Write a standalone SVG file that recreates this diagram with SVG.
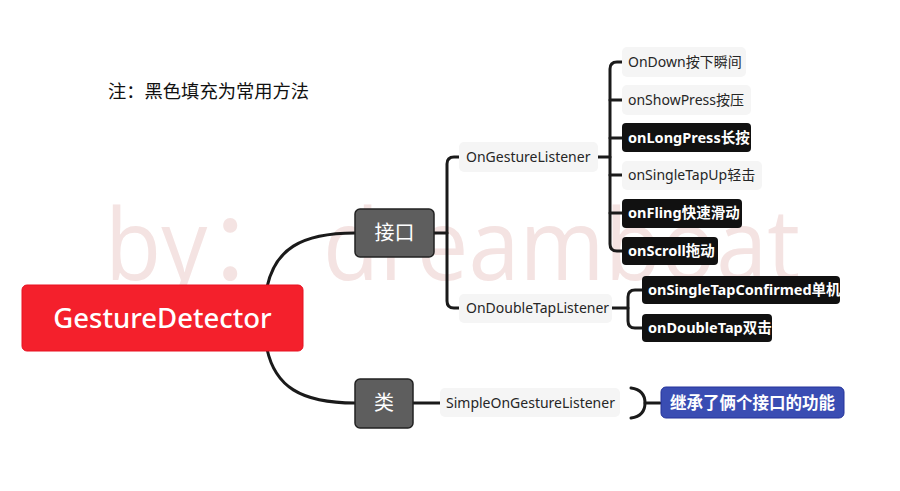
<svg xmlns="http://www.w3.org/2000/svg" width="900" height="491" viewBox="0 0 900 491">
<style>
text{font-family:"Noto Sans","Noto Sans CJK SC",sans-serif;}
.conn{fill:none;stroke:#1a1a1a;stroke-width:3;stroke-linecap:round;}
.light rect{fill:#f5f5f5;}
.light text{fill:#262626;font-size:14px;}
.dark rect{fill:#111;}
.dark text{fill:#fff;font-size:14.5px;font-weight:bold;}
.mid rect{fill:#5e5e5e;stroke:#222;stroke-width:1.5;}
.mid text{fill:#fff;font-size:20px;}
</style>
<rect width="900" height="491" fill="#fff"/>
<text x="105" y="280" font-size="98" fill="#f4e3e2" textLength="695" lengthAdjust="spacingAndGlyphs" style="font-family:'Open Sans','Noto Sans CJK SC',sans-serif">by： dreamboat</text>
<text x="108" y="98" font-size="18.3" fill="#111">注：黑色填充为常用方法</text>
<g id="connectors">
<path class="conn" d="M267 287 C 275 250, 300 233, 355 233"/>
<path class="conn" d="M267 349 C 275 386, 300 403, 355 403"/>
<path class="conn" d="M434 233 H447"/>
<path class="conn" d="M461 157 H454 Q447 157 447 164 V301 Q447 308 454 308 H461"/>
<path class="conn" d="M598 157 H610"/>
<path class="conn" d="M622 62 H617 Q610 62 610 69 V244 Q610 251 617 251 H622"/>
<path class="conn" d="M610 100 H622 M610 138 H622 M610 175 H622 M610 213 H622"/>
<path class="conn" d="M612 308 H628"/>
<path class="conn" d="M642 290 H635 Q628 290 628 297 V321 Q628 328 635 328 H642"/>
<path class="conn" d="M413 403 H441"/>
<path class="conn" d="M631 388 Q645 390 645 403 Q645 416 631 418" stroke-width="2"/>
<path class="conn" d="M645 403 H660" stroke-width="2"/>
</g>
<g id="root"><rect x="22" y="285" width="281" height="66" rx="5" fill="#f4202c" stroke="#e81020"/><text x="162.5" y="328" font-size="27.5" fill="#fff" text-anchor="middle" font-weight="500">GestureDetector</text></g>
<g id="interface" class="mid"><rect x="355" y="209" width="79" height="48" rx="5"/><text x="394.5" y="240" text-anchor="middle">接口</text></g>
<g id="class" class="mid"><rect x="355" y="379" width="58" height="49" rx="5"/><text x="384" y="410" text-anchor="middle">类</text></g>
<g id="onGestureListener" class="light"><rect x="459" y="142" width="139" height="30" rx="5"/><text x="466" y="162">OnGestureListener</text></g>
<g id="onDoubleTapListener" class="light"><rect x="459" y="294" width="153" height="29" rx="5"/><text x="466" y="313">OnDoubleTapListener</text></g>
<g id="simple" class="light"><rect x="440" y="388" width="180" height="29" rx="5"/><text x="446" y="408">SimpleOnGestureListener</text></g>
<g id="onDown" class="light"><rect x="622" y="47" width="124" height="30" rx="5"/><text x="628" y="67">OnDown按下瞬间</text></g>
<g id="onShowPress" class="light"><rect x="622" y="85" width="129" height="30" rx="5"/><text x="628" y="105">onShowPress按压</text></g>
<g id="onLongPress" class="dark"><rect x="622" y="123" width="129" height="29" rx="4"/><text x="628" y="143">onLongPress长按</text></g>
<g id="onSingleTapUp" class="light"><rect x="622" y="161" width="140" height="29" rx="5"/><text x="628" y="180">onSingleTapUp轻击</text></g>
<g id="onFling" class="dark"><rect x="622" y="199" width="120" height="29" rx="4"/><text x="628" y="218">onFling快速滑动</text></g>
<g id="onScroll" class="dark"><rect x="622" y="237" width="96" height="28" rx="4"/><text x="628" y="256">onScroll拖动</text></g>
<g id="onSingleTapConfirmed" class="dark"><rect x="642" y="276" width="198" height="28" rx="4"/><text x="648" y="295">onSingleTapConfirmed单机</text></g>
<g id="onDoubleTap" class="dark"><rect x="642" y="314" width="130" height="28" rx="4"/><text x="648" y="333">onDoubleTap双击</text></g>
<g id="note"><rect x="661" y="387" width="183" height="31" rx="5" fill="#3a4db3" stroke="#24339a"/><text x="752.5" y="409" font-size="16.5" fill="#fff" font-weight="bold" text-anchor="middle">继承了俩个接口的功能</text></g>
</svg>
